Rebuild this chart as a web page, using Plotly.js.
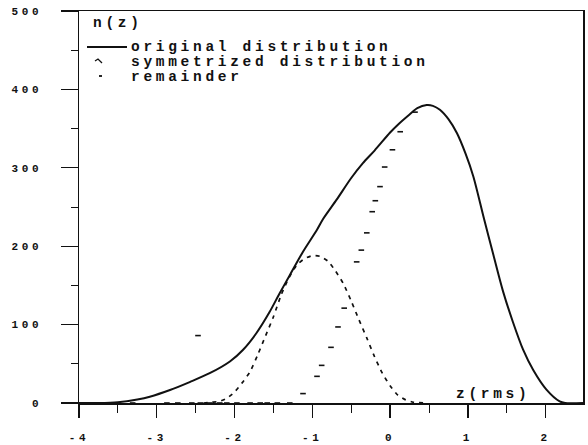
<!DOCTYPE html>
<html><head><meta charset="utf-8">
<script src="https://cdn.plot.ly/plotly-3.0.1.min.js"></script>
<style>
html,body{margin:0;padding:0;background:#fff;}
#chart{width:588px;height:445px;}
text{letter-spacing:3.7px;}
</style></head><body><div id="chart"></div>
<script>
// original distribution n(z)
const zOriginal = [-4, -3.75, -3.5, -3.25, -3.09, -2.83, -2.57, -2.32, -2.06, -1.89, -1.72, -1.55, -1.42, -1.29, -1.12, -0.94, -0.86, -0.69, -0.5, -0.35, -0.2, 0, 0.1, 0.25, 0.35, 0.47, 0.55, 0.64, 0.75, 0.86, 0.97, 1.07, 1.2, 1.33, 1.45, 1.58, 1.71, 1.84, 2.01, 2.18, 2.25, 2.48];
const nOriginal = [0, 0, 1, 4.5, 8, 16.5, 27, 38, 53, 68, 89, 116, 140, 163, 193, 221, 235, 259, 287, 306, 322, 345, 355, 368, 376, 380, 379, 374, 362, 344, 318, 289, 238, 188, 143, 103, 68, 42, 17, 2, 0, 0];
// symmetrized distribution
const zSymmetrized = [-2.4, -2.3, -2.2, -2.1, -2.0, -1.9, -1.8, -1.7, -1.6, -1.5, -1.4, -1.3, -1.2, -1.1, -1.0, -0.9, -0.8, -0.7, -0.6, -0.5, -0.4, -0.3, -0.2, -0.1, 0.0, 0.1, 0.2, 0.3, 0.45];
const nSymmetrized = [0, 1, 2, 6, 14, 26, 40, 62, 86, 110, 138, 160, 176, 184, 188, 187, 181, 168, 152, 130, 106, 83, 59, 38, 22, 10, 4, 1, 0];
// remainder
const zRemainder = [-3.31, -2.87, -2.73, -2.55, -2.47, -2.44, -2.32, -2.19, -2.10, -1.97, -1.80, -1.67, -1.58, -1.45, -1.29, -1.12, -0.94, -0.88, -0.76, -0.67, -0.59, -0.43, -0.37, -0.30, -0.23, -0.19, -0.13, -0.07, 0.03, 0.13, 0.32];
const nRemainder = [0, 0, 0, 0, 86, 0, 0, 0, 0, 0, 0, 0, 0, 0, 0, 12, 34, 48, 71, 97, 121, 180, 195, 217, 244, 258, 276, 301, 323, 346, 371];

const xTickValues = [-4, -3, -2, -1, 0, 1, 2];
const yTickValues = [0, 100, 200, 300, 400, 500];
const legendLabels = ['original distribution', 'symmetrized distribution', 'remainder'];
const yLabel = 'n(z)';
const xLabel = 'z(rms)';

const ink = '#111';
const txtFont = {family: 'Liberation Mono, DejaVu Sans Mono, monospace', size: 14.5, color: ink, weight: 700};
const tickFont = {family: 'Liberation Mono, DejaVu Sans Mono, monospace', size: 11, color: ink, weight: 700};

// plot box in pixels, used for placing the hand-drawn legend
const L = 79, R = 583, T = 11, B = 403;
const px = X => (X - L) / (R - L);
const py = Y => (B - Y) / (B - T);

const traces = [
  {x: zOriginal, y: nOriginal, mode: 'lines', name: legendLabels[0],
   line: {color: ink, width: 2, shape: 'spline', smoothing: 0.8}, cliponaxis: false},
  {x: zSymmetrized, y: nSymmetrized, mode: 'lines', name: legendLabels[1],
   line: {color: ink, width: 1.7, dash: '4px,5px', shape: 'spline', smoothing: 0.6}, cliponaxis: false},
  {x: zRemainder, y: nRemainder, mode: 'markers', name: legendLabels[2],
   marker: {symbol: 'line-ew', size: 4, color: ink, line: {width: 1.6, color: ink}}, cliponaxis: false}
];

const layout = {
  width: 588, height: 445,
  margin: {l: L, r: 588 - R, t: T, b: 445 - B, pad: 0},
  paper_bgcolor: '#fff', plot_bgcolor: '#fff',
  showlegend: false,
  xaxis: {
    range: [-4, 2.48], tickmode: 'array', tickvals: xTickValues,
    ticktext: xTickValues.map(String),
    ticks: 'outside', ticklen: 13, tickwidth: 1.3, tickcolor: ink,
    showline: true, linewidth: 1.5, linecolor: ink, mirror: true,
    showgrid: false, zeroline: false, tickfont: tickFont, ticklabelstandoff: 10,
    minor: {tickmode: 'linear', tick0: -4, dtick: 0.5, ticks: 'outside', ticklen: 8, tickwidth: 1, tickcolor: ink, showgrid: false}
  },
  yaxis: {
    range: [0, 500], tickmode: 'array', tickvals: yTickValues,
    ticktext: yTickValues.map(String),
    ticks: 'outside', ticklen: 17, tickwidth: 1.3, tickcolor: ink,
    showline: true, linewidth: 1.5, linecolor: ink, mirror: true,
    showgrid: false, zeroline: false, tickfont: tickFont, ticklabelstandoff: 16,
    minor: {tickmode: 'linear', tick0: 0, dtick: 50, ticks: 'outside', ticklen: 7, tickwidth: 1, tickcolor: ink, showgrid: false}
  },
  annotations: [
    {xref: 'paper', yref: 'paper', x: px(91), y: py(23), xanchor: 'left', yanchor: 'middle', text: yLabel, showarrow: false, font: txtFont},
    {xref: 'paper', yref: 'paper', x: px(454), y: py(394), xanchor: 'left', yanchor: 'middle', text: xLabel, showarrow: false, font: txtFont},
    {xref: 'paper', yref: 'paper', x: px(129), y: py(47), xanchor: 'left', yanchor: 'middle', text: legendLabels[0], showarrow: false, font: txtFont},
    {xref: 'paper', yref: 'paper', x: px(129), y: py(62), xanchor: 'left', yanchor: 'middle', text: legendLabels[1], showarrow: false, font: txtFont},
    {xref: 'paper', yref: 'paper', x: px(129), y: py(77), xanchor: 'left', yanchor: 'middle', text: legendLabels[2], showarrow: false, font: txtFont}
  ],
  shapes: [
    {type: 'line', xref: 'paper', yref: 'paper', x0: px(87), x1: px(127), y0: py(47), y1: py(47), line: {color: ink, width: 2}},
    {type: 'path', xref: 'paper', yref: 'paper', path: `M${px(95)},${py(61)} L${px(98)},${py(59)} L${px(102)},${py(63)}`, line: {color: ink, width: 1.3}},
    {type: 'line', xref: 'paper', yref: 'paper', x0: px(99), x1: px(102), y0: py(76), y1: py(76), line: {color: ink, width: 1.8}}
  ]
};

Plotly.newPlot('chart', traces, layout, {staticPlot: true, displayModeBar: false});
</script>
</body></html>
